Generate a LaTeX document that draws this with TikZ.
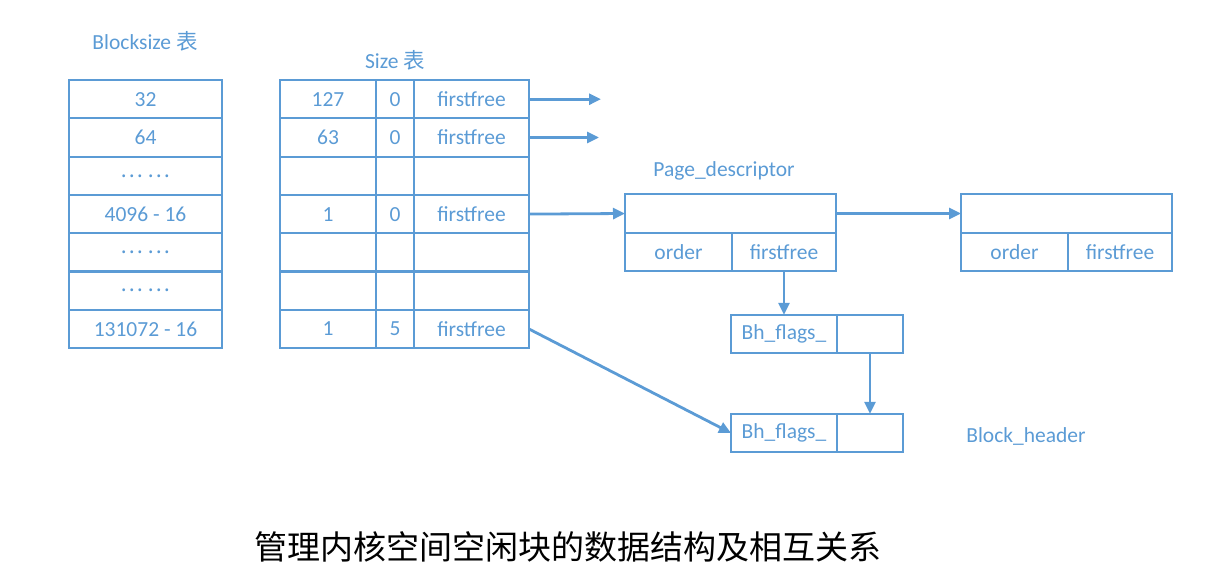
\documentclass[tikz,border=0pt]{standalone}
\usepackage{fontspec}
\setmainfont{Carlito}
\newfontfamily\cjk{Noto Sans CJK SC}
\usepackage{tikz}
\usetikzlibrary{positioning, arrows.meta}
\definecolor{officeblue}{HTML}{5B9BD5}
\tikzset{
    cell/.style={
        rectangle,
        draw=officeblue,
        line width=2.2pt,
        inner sep=0pt,
        outer sep=0pt,
        minimum height=38.3pt,
        text=officeblue,
        font=\fontsize{21.5}{24}\selectfont
    },
    label/.style={
        text=officeblue,
        inner sep=0pt,
        font=\fontsize{21.5}{24}\selectfont
    },
    link/.style={
        draw=officeblue,
        line width=2.8pt,
        -{Triangle[length=12pt,width=11pt]}
    }
}
\newcommand{\gaps}{{\cjk …} {\cjk …}}

\begin{document}
\begin{tikzpicture}[x=1pt,y=-1pt]

\useasboundingbox (0,0) rectangle (1221,585);

%---------------- Blocksize table ----------------

\node[label] (bslabel) at (145,41) {Blocksize {\cjk 表}};

\node[cell, minimum width=153pt] (bs1) at (145.5,99.2) {32};
\node[cell, minimum width=153pt] (bs2) at (145.5,137.5) {64};
\node[cell, minimum width=153pt] (bs3) at (145.5,175.8) {\gaps};
\node[cell, minimum width=153pt] (bs4) at (145.5,214.1) {4096 - 16};
\node[cell, minimum width=153pt] (bs5) at (145.5,252.4) {\gaps};
\node[cell, minimum width=153pt] (bs6) at (145.5,290.7) {\gaps};
\node[cell, minimum width=153pt] (bs7) at (145.5,329.0) {131072 - 16};

%---------------- Size table ----------------

\node[label] (szlabel) at (395,60) {Size {\cjk 表}};

\node[cell, minimum width=96pt] (sz1a) at (328,99.2) {127};
\node[cell, minimum width=38pt] (sz1b) at (395,99.2) {0};
\node[cell, minimum width=115pt] (sz1c) at (471.5,99.2) {firstfree};

\node[cell, minimum width=96pt] (sz2a) at (328,137.5) {63};
\node[cell, minimum width=38pt] (sz2b) at (395,137.5) {0};
\node[cell, minimum width=115pt] (sz2c) at (471.5,137.5) {firstfree};

\node[cell, minimum width=96pt] (sz3a) at (328,175.8) {};
\node[cell, minimum width=38pt] (sz3b) at (395,175.8) {};
\node[cell, minimum width=115pt] (sz3c) at (471.5,175.8) {};

\node[cell, minimum width=96pt] (sz4a) at (328,214.1) {1};
\node[cell, minimum width=38pt] (sz4b) at (395,214.1) {0};
\node[cell, minimum width=115pt] (sz4c) at (471.5,214.1) {firstfree};

\node[cell, minimum width=96pt] (sz5a) at (328,252.4) {};
\node[cell, minimum width=38pt] (sz5b) at (395,252.4) {};
\node[cell, minimum width=115pt] (sz5c) at (471.5,252.4) {};

\node[cell, minimum width=96pt] (sz6a) at (328,290.7) {};
\node[cell, minimum width=38pt] (sz6b) at (395,290.7) {};
\node[cell, minimum width=115pt] (sz6c) at (471.5,290.7) {};

\node[cell, minimum width=96pt] (sz7a) at (328,329.0) {1};
\node[cell, minimum width=38pt] (sz7b) at (395,329.0) {5};
\node[cell, minimum width=115pt] (sz7c) at (471.5,329.0) {firstfree};

\coordinate (end1) at (601,99.2);
\coordinate (end2) at (599,137.5);

%---------------- Page descriptors ----------------

\node[label] (pdlabel) at (724,171) {Page\_descriptor};

\node[cell, minimum width=211pt] (pd1) at (730.5,213.5) {};
\node[cell, minimum width=107pt] (pd1o) at (678.5,251.8) {order};
\node[cell, minimum width=104pt] (pd1f) at (784,251.8) {firstfree};

\node[cell, minimum width=211pt] (pd2) at (1066.5,213.5) {};
\node[cell, minimum width=107pt] (pd2o) at (1014.5,251.8) {order};
\node[cell, minimum width=104pt] (pd2f) at (1120,251.8) {firstfree};

%---------------- Block headers ----------------

\node[cell, minimum width=106pt] (bh1n) at (784,334) {Bh\_flags\_};
\node[cell, minimum width=66pt] (bh1v) at (870,334) {};

\node[cell, minimum width=106pt] (bh2n) at (784,433) {Bh\_flags\_};
\node[cell, minimum width=66pt] (bh2v) at (870,433) {};

\node[label] (bhlabel) at (1026,436) {Block\_header};

%---------------- Links ----------------

\draw[link] (sz1c.east) -- (end1);
\draw[link] (sz2c.east) -- (end2);
\draw[link] (sz4c.east) -- (pd1.west);
\draw[link] (pd1.east) -- (pd2.west);
\draw[link] (pd1f.south) -- (bh1n.north);
\draw[link] (bh1v.south) -- (bh2v.north);
\draw[link] (sz7c.east) -- (bh2n.west);

%---------------- Title ----------------

\node[inner sep=0pt, font=\cjk\fontsize{33}{38}\selectfont] (title) at (568,547) {管理内核空间空闲块的数据结构及相互关系};

\end{tikzpicture}
\end{document}
